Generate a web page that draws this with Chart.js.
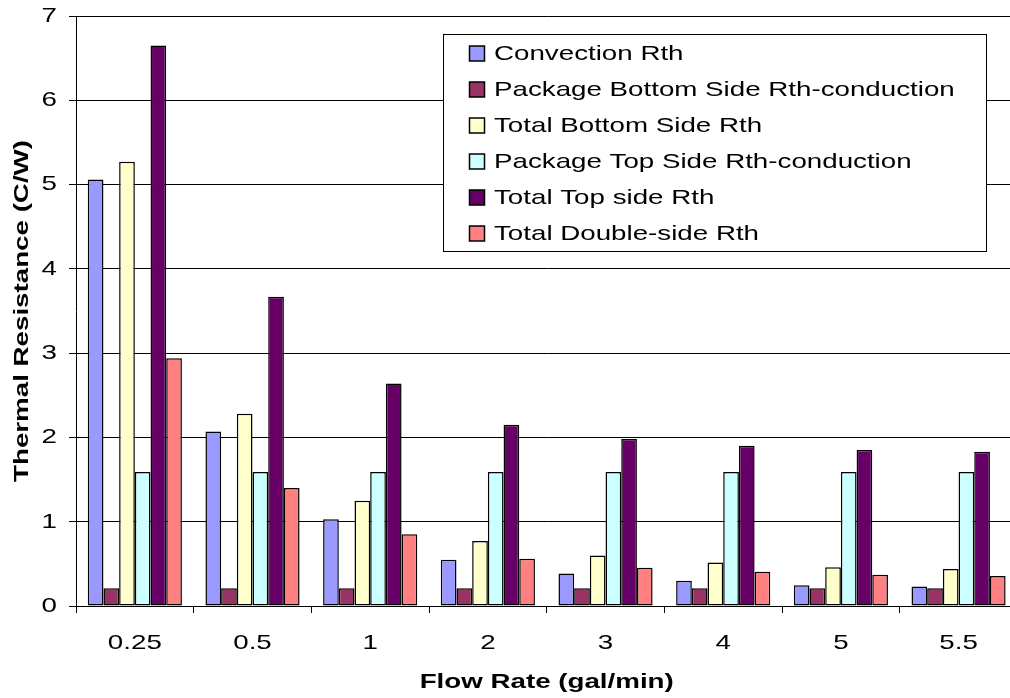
<!DOCTYPE html>
<html>
<head>
<meta charset="utf-8">
<script src="https://cdn.jsdelivr.net/npm/chart.js@4.4.1/dist/chart.umd.min.js"></script>
<style>
  html, body { margin: 0; padding: 0; overflow: hidden; background: #fff; }
  #wrap { width: 1020px; height: 698px; }
</style>
</head>
<body>
<div id="wrap"><canvas id="c" width="1020" height="698"></canvas></div>
<script>
// Flow rates (gal/min) on the category axis
const flowRates = ['0.25', '0.5', '1', '2', '3', '4', '5', '5.5'];

// Thermal resistance (C/W) per series
const convectionRth      = [5.06, 2.07, 1.03, 0.55, 0.385, 0.30, 0.245, 0.23];
const pkgBottomRth       = [0.21, 0.21, 0.21, 0.21, 0.21, 0.21, 0.21, 0.21];
const totalBottomRth     = [5.27, 2.28, 1.25, 0.77, 0.60, 0.515, 0.46, 0.44];
const pkgTopRth          = [1.59, 1.59, 1.59, 1.59, 1.59, 1.59, 1.59, 1.59];
const totalTopRth        = [6.65, 3.67, 2.64, 2.15, 1.98, 1.90, 1.85, 1.83];
const totalDoubleSideRth = [2.94, 1.40, 0.85, 0.56, 0.455, 0.405, 0.37, 0.355];

const seriesNames = [
  'Convection Rth',
  'Package Bottom Side Rth-conduction',
  'Total Bottom Side Rth',
  'Package Top Side Rth-conduction',
  'Total Top side Rth',
  'Total Double-side Rth'
];
const seriesColors = ['#9999FF', '#993366', '#FFFFCC', '#CCFFFF', '#660066', '#FF8080'];

// Value axis tick labels
const yTickLabels = ['0', '1', '2', '3', '4', '5', '6', '7'];

const FONT_FAMILY = "'Liberation Sans', Arial, Helvetica, sans-serif";
const TEXT_WIDE = 1.32;   // horizontal widening of the lettering

const canvas = document.getElementById('c');
const ctx = canvas.getContext('2d');

// Wide lettering: every text run is drawn stretched along its own direction
const baseFill = ctx.fillText.bind(ctx);
const baseMeasure = ctx.measureText.bind(ctx);
ctx.fillText = function (text, x, y, maxWidth) {
  ctx.save();
  ctx.translate(x, y);
  ctx.scale(TEXT_WIDE, 1);
  if (maxWidth === undefined) baseFill(text, 0, 0);
  else baseFill(text, 0, 0, maxWidth / TEXT_WIDE);
  ctx.restore();
};
ctx.measureText = function (text) {
  const m = baseMeasure(text);
  return {
    width: m.width * TEXT_WIDE,
    actualBoundingBoxLeft: m.actualBoundingBoxLeft * TEXT_WIDE,
    actualBoundingBoxRight: m.actualBoundingBoxRight * TEXT_WIDE,
    actualBoundingBoxAscent: m.actualBoundingBoxAscent,
    actualBoundingBoxDescent: m.actualBoundingBoxDescent,
    fontBoundingBoxAscent: m.fontBoundingBoxAscent,
    fontBoundingBoxDescent: m.fontBoundingBoxDescent
  };
};

// Boxed legend inside the plot, upper right
const boxLegend = {
  id: 'boxLegend',
  afterDraw(chart) {
    const c = chart.ctx;
    const L = 443.5, T = 34.5, R = 986.5, B = 251.5;
    c.save();
    c.fillStyle = '#ffffff';
    c.fillRect(L, T, R - L, B - T);
    c.strokeStyle = '#000000';
    c.lineWidth = 1;
    c.strokeRect(L, T, R - L, B - T);
    c.font = '21px ' + FONT_FAMILY;
    c.textAlign = 'left';
    c.textBaseline = 'middle';
    chart.data.datasets.forEach((ds, i) => {
      const cy = 53.5 + i * 36;
      c.fillStyle = ds.backgroundColor;
      c.fillRect(469.5, cy - 7.5, 15, 15);
      c.strokeStyle = '#000000';
      c.lineWidth = 1.5;
      c.strokeRect(469.5, cy - 7.5, 15, 15);
      c.fillStyle = '#000000';
      c.fillText(ds.label, 494, cy + 0.5);
    });
    c.restore();
  }
};

const seriesData = [convectionRth, pkgBottomRth, totalBottomRth, pkgTopRth, totalTopRth, totalDoubleSideRth];

Chart.defaults.font.family = FONT_FAMILY;
Chart.defaults.color = '#000000';

new Chart(ctx, {
  type: 'bar',
  data: {
    labels: flowRates,
    datasets: seriesData.map((d, i) => ({
      label: seriesNames[i],
      data: d,
      backgroundColor: seriesColors[i],
      borderColor: '#000000',
      borderWidth: 1.5,
      borderSkipped: false,
      categoryPercentage: 0.8,
      barPercentage: 1.0
    }))
  },
  options: {
    responsive: false,
    devicePixelRatio: 1,
    animation: false,
    layout: { padding: { top: 16, right: 2.6, left: 0, bottom: 0 } },
    plugins: {
      legend: { display: false },
      tooltip: { enabled: false },
      title: { display: false }
    },
    scales: {
      x: {
        offset: true,
        grid: {
          offset: true,
          drawOnChartArea: false,
          drawTicks: true,
          tickLength: 7,
          color: '#000000'
        },
        border: { display: true, color: '#000000', width: 1 },
        ticks: {
          font: { size: 21 },
          padding: 18,
          maxRotation: 0,
          autoSkip: false
        },
        title: {
          display: true,
          text: 'Flow Rate (gal/min)',
          font: { size: 21, weight: 'bold' },
          padding: { top: 0, bottom: 3 }
        },
        afterFit(scale) {
          scale.height = 92;
          scale.paddingLeft = 0;
          scale.paddingRight = 0;
        }
      },
      y: {
        min: 0,
        max: 7,
        ticks: {
          stepSize: 1,
          font: { size: 21 },
          padding: 12,
          callback: (v) => yTickLabels[v] ?? String(v)
        },
        grid: {
          color: '#000000',
          lineWidth: 1,
          drawTicks: true,
          tickLength: 7
        },
        border: { display: true, color: '#000000', width: 1 },
        title: {
          display: true,
          text: 'Thermal Resistance (C/W)',
          font: { size: 21, weight: 'bold' },
          padding: { top: 10, bottom: 0 }
        },
        afterFit(scale) {
          scale.width = 76;
          scale.paddingTop = 0;
          scale.paddingBottom = 0;
        }
      }
    }
  },
  plugins: [boxLegend]
});
</script>
</body>
</html>
